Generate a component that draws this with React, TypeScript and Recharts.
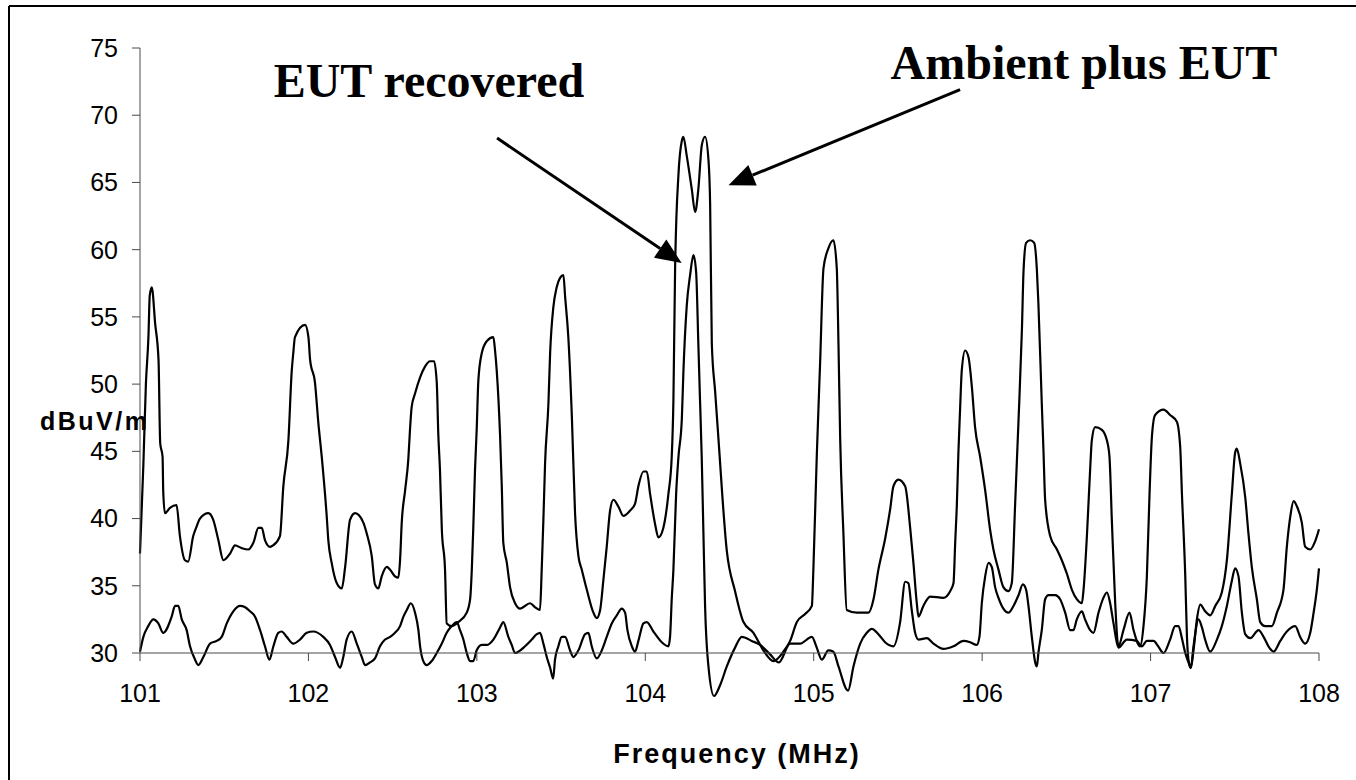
import React from 'react'
import { LineChart, Line, XAxis, YAxis, ReferenceLine } from 'recharts'

// Ambient plus EUT (upper trace)
const ambientFreq = [
  101.0, 101.02, 101.035, 101.05, 101.058, 101.07, 101.09, 101.11, 101.12, 101.134, 101.138, 101.148,
  101.178, 101.217, 101.237, 101.267, 101.286, 101.316, 101.336, 101.356, 101.406, 101.435, 101.465,
  101.495, 101.535, 101.564, 101.604, 101.643, 101.673, 101.703, 101.723, 101.742, 101.772, 101.79,
  101.831, 101.851, 101.881, 101.901, 101.91, 101.92, 101.98, 102.0, 102.01, 102.039, 102.059, 102.079,
  102.109, 102.118, 102.138, 102.168, 102.198, 102.218, 102.247, 102.277, 102.326, 102.346, 102.376,
  102.395, 102.415, 102.435, 102.465, 102.485, 102.514, 102.534, 102.544, 102.554, 102.574, 102.593,
  102.603, 102.613, 102.633, 102.663, 102.692, 102.722, 102.746, 102.762, 102.771, 102.781, 102.792,
  102.811, 102.821, 102.851, 102.89, 102.94, 102.96, 102.97, 102.979, 102.989, 102.999, 103.009,
  103.029, 103.059, 103.098, 103.108, 103.118, 103.138, 103.148, 103.157, 103.178, 103.197, 103.227,
  103.257, 103.316, 103.346, 103.375, 103.385, 103.395, 103.405, 103.425, 103.435, 103.454, 103.474,
  103.494, 103.514, 103.524, 103.543, 103.564, 103.583, 103.603, 103.623, 103.653, 103.692, 103.712,
  103.732, 103.751, 103.771, 103.791, 103.811, 103.84, 103.87, 103.91, 103.939, 103.959, 103.989,
  104.009, 104.029, 104.058, 104.078, 104.107, 104.137, 104.157, 104.167, 104.177, 104.197, 104.217,
  104.226, 104.246, 104.276, 104.296, 104.315, 104.336, 104.355, 104.375, 104.385, 104.395, 104.415,
  104.434, 104.484, 104.533, 104.583, 104.642, 104.701, 104.761, 104.82, 104.86, 104.9, 104.949,
  104.989, 104.998, 105.018, 105.038, 105.058, 105.087, 105.117, 105.137, 105.147, 105.157, 105.176,
  105.196, 105.256, 105.325, 105.355, 105.384, 105.424, 105.454, 105.473, 105.503, 105.543, 105.572,
  105.592, 105.612, 105.622, 105.651, 105.691, 105.77, 105.81, 105.83, 105.84, 105.85, 105.859,
  105.869, 105.879, 105.899, 105.919, 105.939, 105.958, 105.988, 106.018, 106.047, 106.067, 106.097,
  106.126, 106.156, 106.176, 106.196, 106.216, 106.236, 106.246, 106.261, 106.285, 106.309, 106.325,
  106.334, 106.354, 106.364, 106.374, 106.404, 106.444, 106.473, 106.503, 106.533, 106.562, 106.592,
  106.602, 106.622, 106.641, 106.651, 106.671, 106.711, 106.741, 106.756, 106.77, 106.79, 106.809,
  106.839, 106.875, 106.899, 106.938, 106.958, 106.978, 106.994, 107.008, 107.027, 107.077, 107.116,
  107.156, 107.176, 107.186, 107.206, 107.216, 107.225, 107.239, 107.255, 107.275, 107.295, 107.324,
  107.354, 107.384, 107.423, 107.453, 107.483, 107.502, 107.512, 107.532, 107.562, 107.581, 107.601,
  107.631, 107.651, 107.68, 107.72, 107.75, 107.789, 107.809, 107.829, 107.849, 107.869, 107.898,
  107.918, 107.948, 107.977, 108.0,
]
const ambientLevel = [
  37.4, 44.0, 50.0, 53.5, 56.6, 57.2, 54.5, 51.8, 45.6, 44.6, 42.0, 40.4,
  40.8, 41.0, 38.7, 36.9, 36.8, 38.7, 39.4, 40.0, 40.4, 39.9, 38.4,
  36.9, 37.4, 38.0, 37.8, 37.7, 38.2, 39.3, 39.3, 38.4, 37.9, 38.0,
  38.7, 42.4, 45.8, 51.0, 52.3, 53.5, 54.4, 53.5, 51.8, 50.1, 47.1, 44.6,
  40.1, 38.4, 36.7, 35.2, 34.8, 36.4, 39.9, 40.4, 39.7, 38.9, 37.2,
  35.1, 34.8, 35.7, 36.4, 36.2, 35.7, 35.6, 36.9, 39.7, 42.1, 44.4,
  46.6, 48.3, 49.3, 50.5, 51.3, 51.7, 51.7, 50.1, 46.3, 43.6, 39.2,
  36.2, 32.2, 32.0, 32.3, 33.0, 34.0, 36.2, 39.4, 43.6, 46.6, 50.3,
  52.3, 53.2, 53.5, 52.5, 51.0, 46.1, 42.4, 38.2, 36.7, 34.9, 33.7,
  33.3, 33.7, 33.4, 33.2, 36.2, 39.9, 44.1, 48.6, 52.3, 55.7, 57.2,
  57.9, 58.1, 56.5, 53.5, 47.6, 40.4, 37.2, 36.2, 34.7, 33.0, 32.6,
  33.2, 35.4, 37.9, 40.6, 41.4, 40.9, 40.2, 40.6, 41.1, 42.4, 43.5,
  43.5, 41.8, 39.6, 38.6, 39.3, 41.8, 44.6, 48.8, 58.6, 65.6, 68.1,
  68.4, 67.0, 64.5, 62.8, 64.5, 67.8, 68.4, 66.7, 63.4, 53.0, 49.4,
  46.0, 37.6, 34.6, 32.3, 31.5, 30.2, 29.4, 30.1, 30.9, 32.3, 32.9,
  33.5, 36.2, 44.6, 51.6, 58.6, 60.1, 60.7, 58.6, 53.0, 46.0, 39.0,
  33.2, 33.0, 33.0, 34.0, 36.2, 38.5, 40.7, 42.4, 42.9, 42.4, 39.4,
  36.7, 33.7, 32.7, 33.5, 34.2, 34.1, 34.6, 35.2, 38.2, 41.1, 44.9,
  48.1, 51.0, 52.5, 52.0, 49.8, 46.8, 44.6, 42.1, 39.2, 37.7, 36.2,
  34.9, 34.6, 35.2, 41.1, 47.3, 54.0, 58.5, 60.5, 60.7, 60.5, 58.5,
  56.0, 48.6, 45.1, 41.4, 38.7, 37.7, 36.9, 35.9, 34.7, 34.0, 33.7,
  34.7, 38.7, 43.6, 45.8, 46.8, 46.6, 45.8, 44.6, 39.9, 33.7, 30.5,
  31.7, 33.0, 31.7, 30.5, 32.0, 35.7, 41.9, 46.1, 47.7, 48.1, 47.7,
  47.2, 45.3, 41.9, 35.7, 31.2, 29.5, 28.9, 30.2, 32.5, 33.6, 33.1,
  32.8, 33.5, 34.5, 36.9, 41.9, 44.9, 45.2, 44.1, 41.6, 38.9, 36.4,
  34.0, 32.3, 32.0, 32.0, 33.0, 34.7, 37.9, 40.1, 41.3, 40.9, 39.7,
  37.9, 37.7, 38.3, 39.2,
]

// EUT recovered (lower trace)
const eutFreq = [
  101.0, 101.02, 101.049, 101.079, 101.109, 101.138, 101.188, 101.208, 101.227, 101.248, 101.277,
  101.297, 101.327, 101.346, 101.376, 101.416, 101.455, 101.485, 101.515, 101.554, 101.594, 101.624,
  101.653, 101.683, 101.713, 101.742, 101.768, 101.792, 101.821, 101.841, 101.871, 101.91, 101.95,
  101.99, 102.029, 102.088, 102.128, 102.158, 102.188, 102.207, 102.227, 102.257, 102.287, 102.317,
  102.336, 102.366, 102.395, 102.425, 102.455, 102.485, 102.514, 102.544, 102.564, 102.584, 102.608,
  102.633, 102.653, 102.663, 102.682, 102.702, 102.732, 102.762, 102.792, 102.821, 102.851, 102.881,
  102.9, 102.92, 102.94, 102.96, 102.979, 102.999, 103.029, 103.059, 103.098, 103.138, 103.157,
  103.187, 103.207, 103.227, 103.247, 103.286, 103.326, 103.356, 103.375, 103.395, 103.415, 103.435,
  103.453, 103.464, 103.484, 103.504, 103.524, 103.553, 103.573, 103.603, 103.643, 103.662, 103.682,
  103.712, 103.742, 103.771, 103.801, 103.831, 103.86, 103.88, 103.894, 103.92, 103.939, 103.959,
  103.989, 104.009, 104.048, 104.098, 104.137, 104.147, 104.157, 104.167, 104.183, 104.197, 104.217,
  104.226, 104.246, 104.266, 104.286, 104.302, 104.315, 104.325, 104.335, 104.345, 104.355, 104.375,
  104.408, 104.444, 104.484, 104.533, 104.573, 104.632, 104.682, 104.741, 104.793, 104.86, 104.919,
  104.989, 105.018, 105.048, 105.087, 105.117, 105.147, 105.204, 105.236, 105.276, 105.315, 105.345,
  105.384, 105.424, 105.473, 105.513, 105.543, 105.562, 105.582, 105.602, 105.622, 105.672, 105.711,
  105.77, 105.83, 105.889, 105.929, 105.968, 105.984, 105.998, 106.018, 106.038, 106.057, 106.077,
  106.097, 106.126, 106.156, 106.186, 106.216, 106.242, 106.261, 106.275, 106.295, 106.315, 106.325,
  106.334, 106.354, 106.374, 106.394, 106.434, 106.463, 106.493, 106.523, 106.542, 106.562, 106.592,
  106.611, 106.641, 106.661, 106.691, 106.72, 106.741, 106.76, 106.78, 106.809, 106.859, 106.918,
  106.948, 106.978, 107.018, 107.045, 107.077, 107.116, 107.146, 107.166, 107.186, 107.206, 107.225,
  107.239, 107.255, 107.285, 107.305, 107.324, 107.354, 107.394, 107.423, 107.453, 107.483, 107.502,
  107.522, 107.542, 107.562, 107.592, 107.641, 107.671, 107.7, 107.73, 107.77, 107.809, 107.859,
  107.888, 107.918, 107.948, 107.968, 107.987, 108.0,
]
const eutLevel = [
  30.1, 31.2, 32.0, 32.5, 32.2, 31.5, 32.7, 33.5, 33.5, 32.5, 31.7,
  30.5, 29.5, 29.1, 29.7, 30.7, 30.9, 31.2, 32.2, 33.1, 33.5, 33.4,
  33.1, 32.7, 31.7, 30.5, 29.5, 30.5, 31.5, 31.6, 31.2, 30.7, 31.0,
  31.5, 31.6, 31.2, 30.6, 29.7, 28.9, 29.7, 31.0, 31.6, 30.7, 29.7,
  29.1, 29.3, 29.6, 30.5, 31.0, 31.2, 31.5, 32.0, 32.7, 33.2, 33.7,
  33.0, 31.7, 30.5, 29.4, 29.1, 29.4, 30.0, 30.7, 31.5, 32.0, 32.3,
  31.7, 31.0, 30.0, 29.4, 29.4, 30.2, 30.6, 30.6, 31.0, 31.9, 32.3,
  31.2, 30.6, 30.0, 30.1, 30.5, 31.0, 31.4, 31.5, 30.7, 29.7, 28.9,
  28.1, 29.5, 30.5, 31.2, 31.2, 30.2, 29.7, 30.2, 31.4, 31.5, 30.5,
  29.6, 30.2, 31.2, 32.2, 32.8, 33.3, 33.0, 31.7, 30.5, 30.1, 30.9,
  32.2, 32.3, 31.6, 30.8, 30.5, 31.2, 34.0, 36.2, 41.8, 44.6, 47.4,
  50.8, 55.8, 58.1, 59.6, 58.3, 53.0, 48.8, 44.6, 39.0, 33.5, 29.0,
  26.8, 27.6, 29.0, 30.4, 31.2, 30.9, 30.6, 29.9, 29.3, 30.7, 30.7,
  31.2, 30.4, 29.5, 30.2, 30.1, 29.0, 27.2, 29.0, 30.7, 31.5, 31.8,
  31.4, 30.8, 30.5, 32.3, 35.3, 35.2, 33.2, 31.5, 31.0, 31.1, 30.7,
  30.3, 30.5, 30.9, 30.8, 30.6, 31.2, 33.7, 35.7, 36.7, 36.4, 34.9,
  34.1, 33.3, 33.0, 33.5, 34.3, 35.1, 34.7, 33.5, 31.2, 29.3, 29.0,
  30.0, 31.7, 34.0, 34.3, 34.3, 34.0, 33.0, 31.7, 31.7, 32.5, 33.1,
  32.5, 31.7, 31.5, 33.0, 34.1, 34.5, 33.7, 32.2, 30.4, 31.0, 30.9,
  30.5, 30.9, 30.9, 30.5, 30.0, 31.0, 32.0, 32.0, 31.1, 30.0, 29.3,
  28.9, 30.5, 32.5, 31.9, 31.0, 30.1, 31.0, 32.0, 33.5, 35.4, 36.3,
  35.7, 33.0, 31.4, 31.1, 31.7, 31.2, 30.5, 30.1, 30.9, 31.6, 32.0,
  31.2, 30.7, 31.5, 33.0, 34.7, 36.3,
]

const freqTicks = [101, 102, 103, 104, 105, 106, 107, 108]
const levelTicks = [30, 35, 40, 45, 50, 55, 60, 65, 70, 75]

// annotation arrows, tail first then tip (MHz, dBuV/m)
const eutArrow = [{ x: 103.12, y: 68.3 }, { x: 104.216, y: 59.0 }]
const ambientArrow = [{ x: 105.869, y: 71.9 }, { x: 104.494, y: 64.8 }]

const toPoints = (fs: number[], vs: number[]) => fs.map((f, i) => ({ f, v: vs[i] }))
const ambientData = toPoints(ambientFreq, ambientLevel)
const eutData = toPoints(eutFreq, eutLevel)

const sans = '"Liberation Sans", Arial, sans-serif'
const serif = '"Liberation Serif", "Times New Roman", serif'

const Arrow = (props: any) => {
  const { x1, y1, x2, y2 } = props
  const dx = x2 - x1
  const dy = y2 - y1
  const len = Math.hypot(dx, dy) || 1
  const ux = dx / len
  const uy = dy / len
  const headLen = 26
  const headW = 11
  const bx = x2 - ux * headLen
  const by = y2 - uy * headLen
  return (
    <g>
      <line x1={x1} y1={y1} x2={bx} y2={by} stroke="#000" strokeWidth={3} />
      <polygon
        points={`${x2},${y2} ${bx - uy * headW},${by + ux * headW} ${bx + uy * headW},${by - ux * headW}`}
        fill="#000"
      />
    </g>
  )
}

export default function App() {
  return (
    <div style={{ position: 'absolute', left: 0, top: 0, width: 1356, height: 780, background: '#fff' }}>
      <style>{'.recharts-line g, .recharts-line path { clip-path: none !important; }'}</style>
      <LineChart width={1356} height={780} margin={{ top: 48, right: 37, bottom: 67, left: 0 }}>
        <XAxis
          type="number"
          dataKey="f"
          domain={[101, 108]}
          ticks={freqTicks}
          allowDataOverflow
          interval={0}
          height={60}
          tickSize={8}
          tickMargin={23}
          stroke="#4a4a4a"
          tick={{ fill: '#000', fontSize: 25, fontFamily: sans }}
        />
        <YAxis
          type="number"
          dataKey="v"
          domain={[30, 75]}
          ticks={levelTicks}
          allowDataOverflow
          interval={0}
          width={140}
          tickSize={8}
          tickMargin={14}
          stroke="#4a4a4a"
          tick={{ fill: '#000', fontSize: 25, fontFamily: sans }}
        />
        <Line
          data={ambientData}
          dataKey="v"
          type="monotone"
          stroke="#000"
          strokeWidth={2.2}
          dot={false}
          isAnimationActive={false}
        />
        <Line
          data={eutData}
          dataKey="v"
          type="monotone"
          stroke="#000"
          strokeWidth={2.2}
          dot={false}
          isAnimationActive={false}
        />
        <ReferenceLine segment={eutArrow} shape={<Arrow />} />
        <ReferenceLine segment={ambientArrow} shape={<Arrow />} />
      </LineChart>
      <svg
        width={1356}
        height={780}
        style={{ position: 'absolute', left: 0, top: 0, pointerEvents: 'none' }}
      >
        <line x1={9} y1={6} x2={9} y2={780} stroke="#000" strokeWidth={2} />
        <line x1={9} y1={6} x2={1356} y2={6} stroke="#000" strokeWidth={2} />
        <text x={429} y={97} textAnchor="middle" fontFamily={serif} fontWeight="bold" fontSize={48}>
          EUT recovered
        </text>
        <text x={1084} y={79} textAnchor="middle" fontFamily={serif} fontWeight="bold" fontSize={48}>
          Ambient plus EUT
        </text>
        <text x={40} y={430} fontFamily={sans} fontWeight="bold" fontSize={25} letterSpacing={2.5}>
          dBuV/m
        </text>
        <text x={737} y={763} textAnchor="middle" fontFamily={sans} fontWeight="bold" fontSize={27} letterSpacing={2}>
          Frequency (MHz)
        </text>
      </svg>
    </div>
  )
}
